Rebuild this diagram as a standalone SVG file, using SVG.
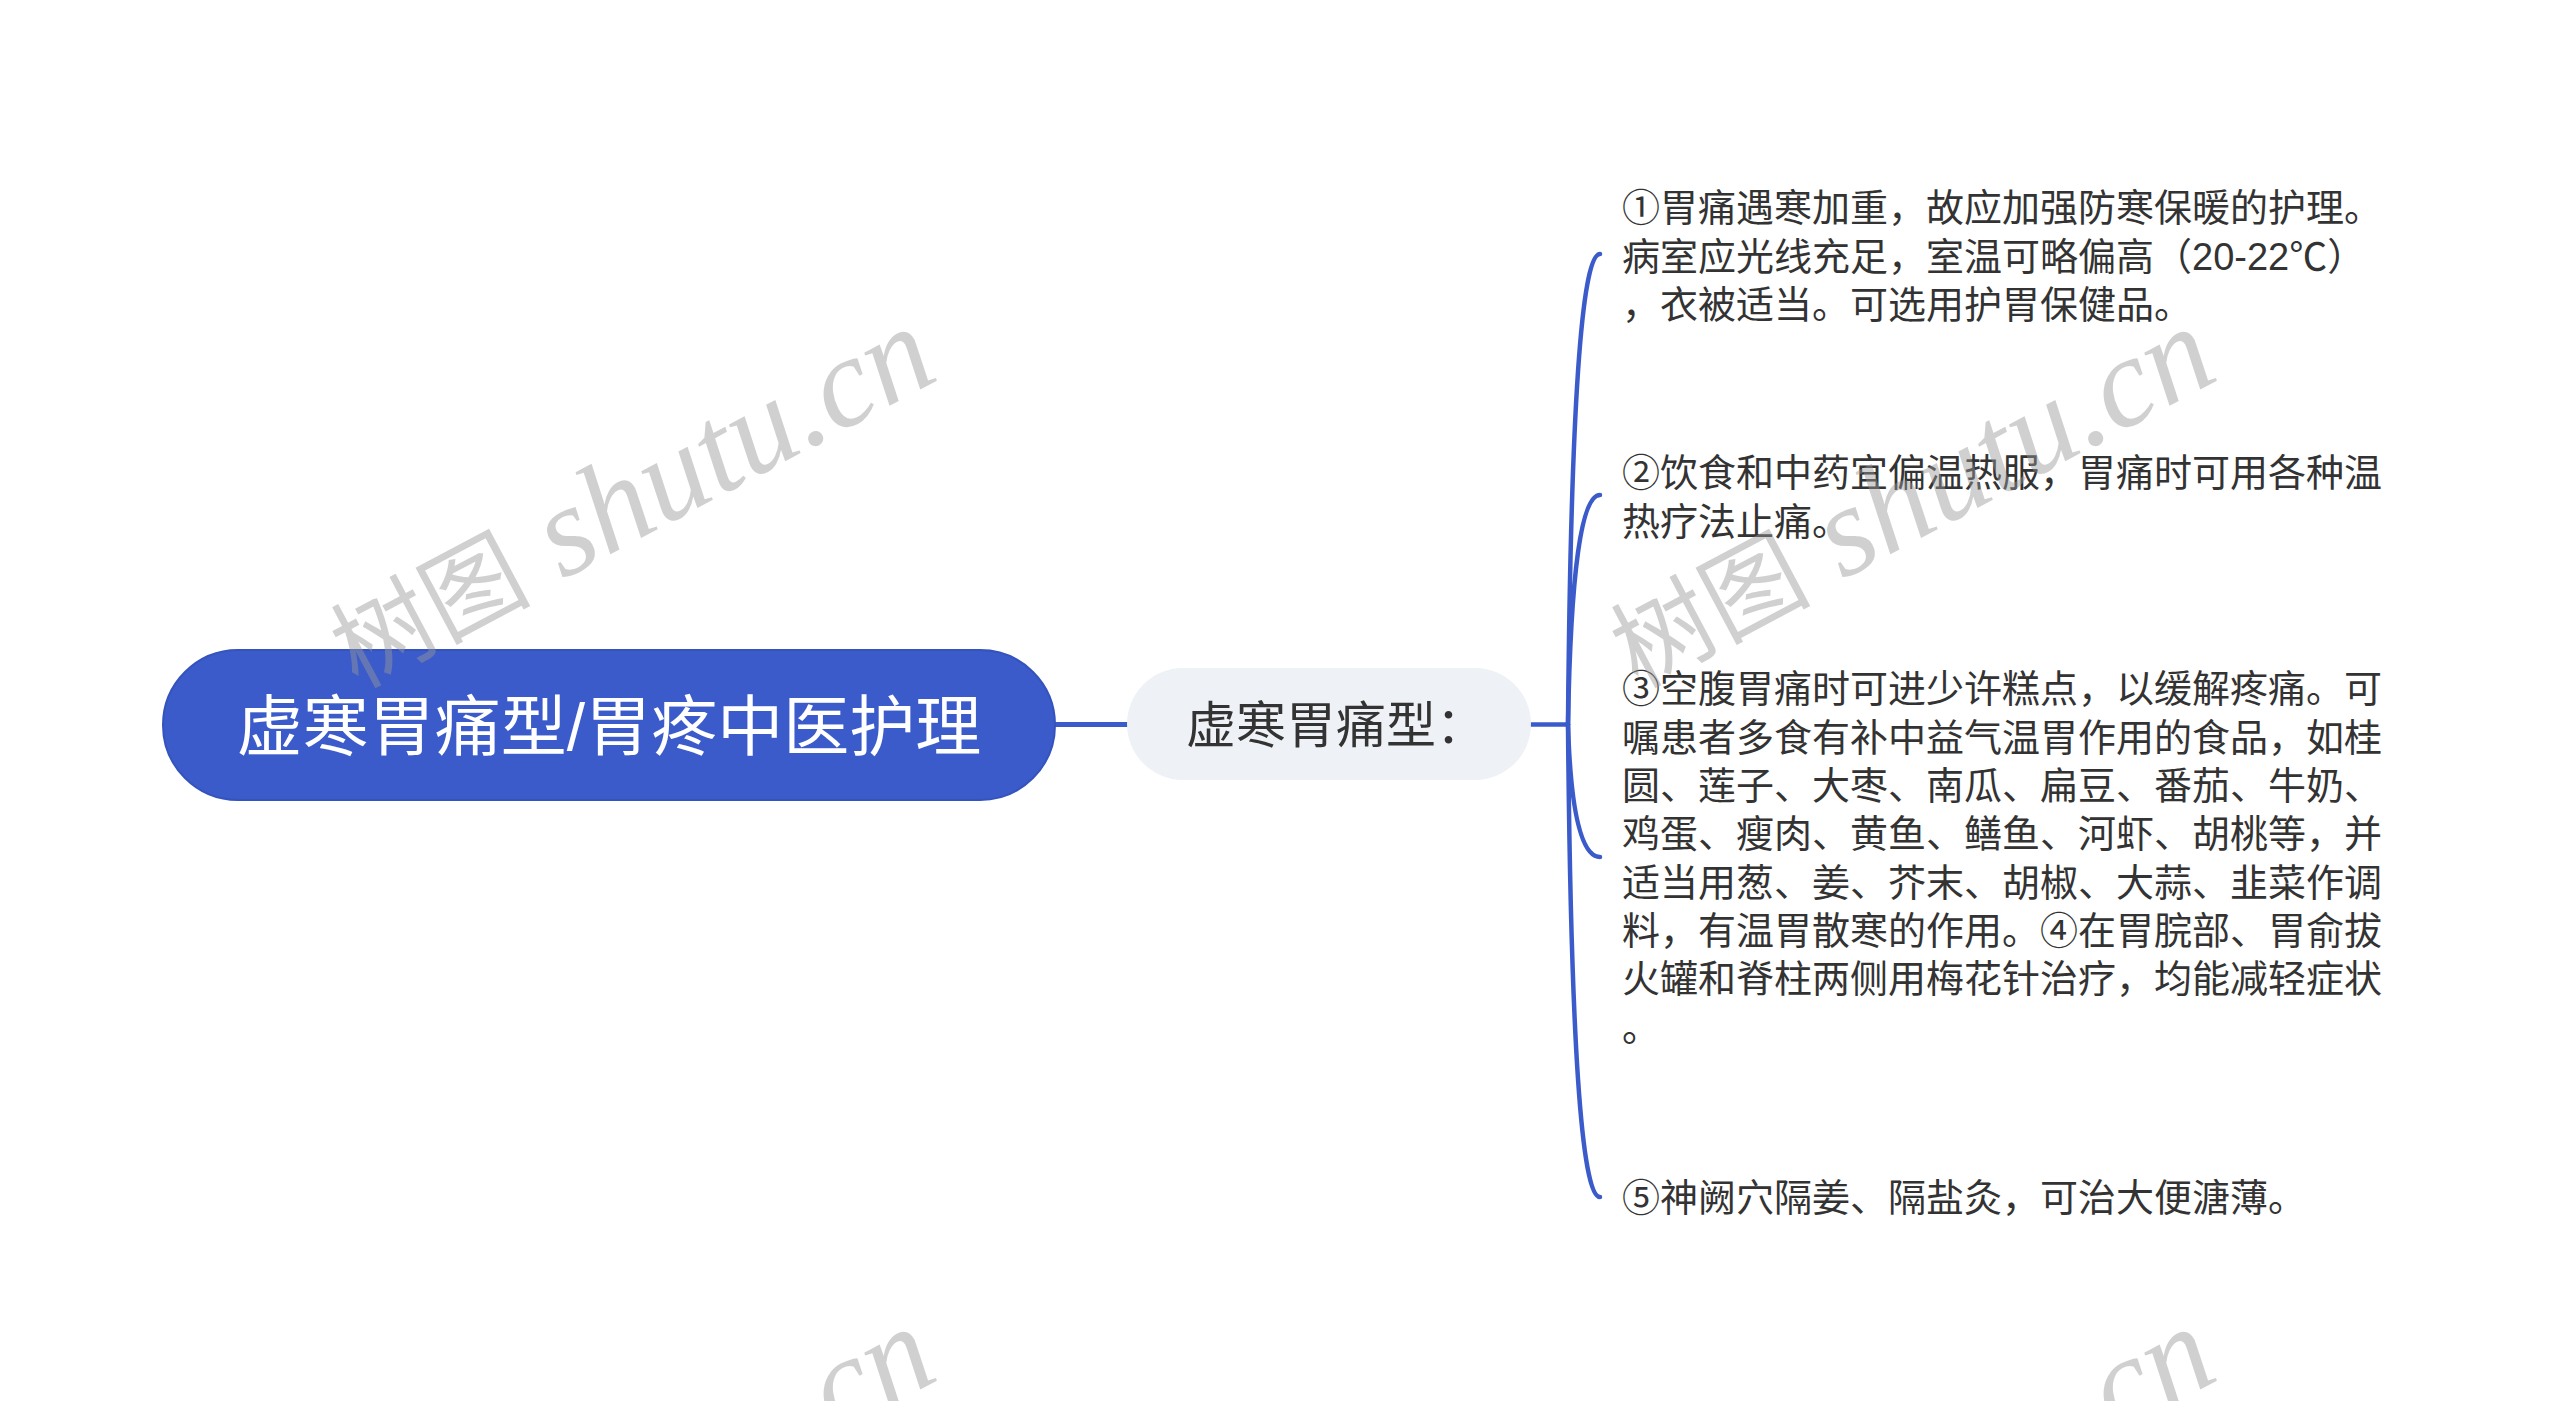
<svg xmlns="http://www.w3.org/2000/svg" width="2560" height="1401" viewBox="0 0 2560 1401">
<style>
.cjk{font-family:'Liberation Sans','Noto Sans CJK SC',sans-serif}
.leaf{font-size:38px;fill:#333333}
.conn{fill:none;stroke:#3B5BCB;stroke-linecap:round}
.wm{fill:#969696;fill-opacity:0.45}
.wm-cjk{font-family:'Noto Sans CJK SC',sans-serif;font-style:normal;font-size:100px}
.wm-lat{font-family:'Liberation Serif',serif;font-style:italic;font-size:128px}
</style>
<rect width="2560" height="1401" fill="#ffffff"/>
<g id="connectors">
<path class="conn" stroke-width="5" d="M1055 724.5 H1127"/>
<path class="conn" stroke-width="4.5" d="M1531 724.5 H1568"/>
<path class="conn" stroke-width="4.5" d="M1568 724.5 Q1572 254 1600 254"/>
<path class="conn" stroke-width="4.5" d="M1568 724.5 Q1572 495 1600 495"/>
<path class="conn" stroke-width="4.5" d="M1568 724.5 Q1572 857 1600 857"/>
<path class="conn" stroke-width="4.5" d="M1568 724.5 Q1572 1197 1600 1197"/>
</g>
<g id="root">
<rect x="163" y="650" width="892" height="150" rx="75" ry="75" fill="#3B5BCB" stroke="#3453BC" stroke-width="2"/>
<text class="cjk" x="609" y="750" font-size="66" fill="#ffffff" text-anchor="middle">虚寒胃痛型/胃疼中医护理</text>
</g>
<g id="child">
<rect x="1127" y="668" width="404" height="112" rx="56" ry="56" fill="#EEF1F5"/>
<text class="cjk" x="1186" y="743" font-size="50" fill="#333333">虚寒胃痛型：</text>
</g>
<g id="leaf1">
<text class="cjk leaf" x="1622"><tspan x="1622" y="221">①胃痛遇寒加重，故应加强防寒保暖的护理。</tspan><tspan x="1622" y="269.5">病室应光线充足，室温可略偏高（20-22℃）</tspan><tspan x="1622" y="318">，衣被适当。可选用护胃保健品。</tspan></text>
</g>
<g id="leaf2">
<text class="cjk leaf" x="1622"><tspan x="1622" y="486">②饮食和中药宜偏温热服，胃痛时可用各种温</tspan><tspan x="1622" y="534.5">热疗法止痛。</tspan></text>
</g>
<g id="leaf3">
<text class="cjk leaf" x="1622"><tspan x="1622" y="702.4">③空腹胃痛时可进少许糕点，以缓解疼痛。可</tspan><tspan x="1622" y="750.7">嘱患者多食有补中益气温胃作用的食品，如桂</tspan><tspan x="1622" y="799">圆、莲子、大枣、南瓜、扁豆、番茄、牛奶、</tspan><tspan x="1622" y="847.3">鸡蛋、瘦肉、黄鱼、鳝鱼、河虾、胡桃等，并</tspan><tspan x="1622" y="895.6">适当用葱、姜、芥末、胡椒、大蒜、韭菜作调</tspan><tspan x="1622" y="943.9">料，有温胃散寒的作用。④在胃脘部、胃俞拔</tspan><tspan x="1622" y="992.2">火罐和脊柱两侧用梅花针治疗，均能减轻症状</tspan><tspan x="1622" y="1040.5">。</tspan></text>
</g>
<g id="leaf5">
<text class="cjk leaf" x="1622" y="1211">⑤神阙穴隔姜、隔盐灸，可治大便溏薄。</text>
</g>
<g id="watermarks">
<text class="wm" text-anchor="end" transform="translate(942 378) rotate(-28)"><tspan class="wm-cjk">树图</tspan><tspan class="wm-lat"> shutu.cn</tspan></text>
<text class="wm" text-anchor="end" transform="translate(2222 378) rotate(-28)"><tspan class="wm-cjk">树图</tspan><tspan class="wm-lat"> shutu.cn</tspan></text>
<text class="wm wm-lat" text-anchor="end" transform="translate(942 1378) rotate(-28)">.cn</text>
<text class="wm wm-lat" text-anchor="end" transform="translate(2222 1378) rotate(-28)">.cn</text>
</g>
</svg>
